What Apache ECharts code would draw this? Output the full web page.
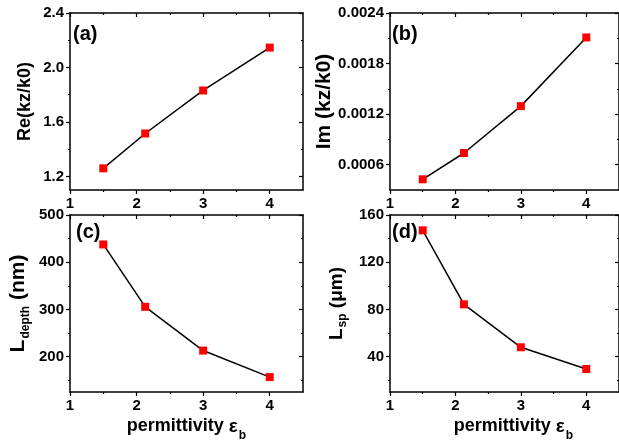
<!DOCTYPE html>
<html>
<head>
<meta charset="utf-8">
<script src="https://cdn.jsdelivr.net/npm/echarts@6/dist/echarts.min.js"></script>
<style>
  html, body { margin: 0; padding: 0; background: #fff; }
  #chart { width: 619px; height: 446px; }
</style>
</head>
<body>
<div id="chart"></div>
<script>
// Background permittivity values shared by all four panels
const epsB = [1.5, 2.13, 3, 4];

// (a) real part of normalised propagation constant
const reKz = [1.259, 1.515, 1.831, 2.146];
// (b) imaginary part of normalised propagation constant
const imKz = [0.000427, 0.000739, 0.001295, 0.00211];
// (c) penetration depth, nm
const lDepth = [437.6, 305.5, 212.8, 156.6];
// (d) propagation length, micrometres
const lSp = [147, 84.3, 47.9, 29.5];

// Tick positions
const xTicks = [1, 2, 3, 4];
const xMinor = [1.5, 2.5, 3.5];
const reTicks = [1.2, 1.6, 2.0, 2.4];
const reMinor = [1.4, 1.8, 2.2];
const imTicks = [0.0006, 0.0012, 0.0018, 0.0024];
const imMinor = [0.0009, 0.0015, 0.0021];
const depthTicks = [200, 300, 400, 500];
const depthMinor = [150, 250, 350, 450];
const spTicks = [40, 80, 120, 160];
const spMinor = [20, 60, 100, 140];

const FONT = "'Liberation Sans', Arial, sans-serif";
const BLACK = '#000';

const grids = [
  { left: 70, top: 13, width: 233, height: 177 },
  { left: 390, top: 13, width: 230, height: 177 },
  { left: 70, top: 215, width: 233, height: 177 },
  { left: 390, top: 215, width: 230, height: 177 }
];

const xAxis = [];
const yAxis = [];

// One frame side: a major axis carrying line/labels/ticks and a
// companion axis that only draws the shorter minor ticks.
function side(list, base, major, minor, opts) {
  const inside = !!opts.inside;
  list.push(Object.assign({}, base, {
    position: opts.position,
    name: opts.name || '',
    nameLocation: 'middle',
    nameGap: opts.nameGap || 0,
    nameTextStyle: opts.nameTextStyle || {},
    axisLine: { show: true, onZero: false, lineStyle: { color: BLACK, width: 1.5 } },
    axisTick: { show: true, inside: inside, length: 4, customValues: major,
                lineStyle: { color: BLACK, width: 1.2 } },
    axisLabel: opts.labels ? {
      show: true, customValues: major, margin: 6, showMaxLabel: true,
      color: BLACK, fontFamily: FONT, fontWeight: 'bold', fontSize: 15,
      formatter: opts.formatter || (v => String(v))
    } : { show: false },
    splitLine: { show: false }
  }));
  list.push(Object.assign({}, base, {
    position: opts.position,
    axisLine: { show: false, onZero: false },
    axisTick: { show: true, inside: inside, length: 2, customValues: minor,
                lineStyle: { color: BLACK, width: 1.2 } },
    axisLabel: { show: false },
    splitLine: { show: false }
  }));
}

function frame(gi, yMin, yMax, yMajor, yMinorVals, yFmt, yName, yNameGap, yNameStyle, xName) {
  const xb = { type: 'value', gridIndex: gi, min: 1, max: 4.5 };
  const xIdx = xAxis.length;
  side(xAxis, xb, xTicks, xMinor, {
    position: 'bottom', labels: true,
    name: xName, nameGap: 25,
    nameTextStyle: xName ? xNameStyle(gi === 3 ? 18 : 0) : {}
  });
  side(xAxis, xb, xTicks, xMinor, { position: 'top', inside: true });

  const yb = { type: 'value', gridIndex: gi, min: yMin, max: yMax };
  const yIdx = yAxis.length;
  side(yAxis, yb, yMajor, yMinorVals, {
    position: 'left', labels: true, formatter: yFmt,
    name: yName, nameGap: yNameGap, nameTextStyle: yNameStyle
  });
  side(yAxis, yb, yMajor, yMinorVals, { position: 'right', inside: true });
  return { xIdx, yIdx };
}

function xNameStyle(shift) {
  return {
    color: BLACK, fontFamily: FONT, fontWeight: 'bold', fontSize: 18,
    padding: [0, 0, 0, shift],
    rich: {
      m: { fontFamily: FONT, fontWeight: 'bold', fontSize: 18, color: BLACK, verticalAlign: 'top', lineHeight: 18 },
      e: { fontFamily: FONT, fontWeight: 'bold', fontSize: 19, color: BLACK, verticalAlign: 'top', lineHeight: 18 },
      s: { fontFamily: FONT, fontWeight: 'bold', fontSize: 12, color: BLACK, verticalAlign: 'top',
           padding: [13, 0, 0, 1], lineHeight: 28 }
    }
  };
}

function subNameStyle(main, sub, drop) {
  return {
    color: BLACK, fontFamily: FONT, fontWeight: 'bold', fontSize: main,
    rich: {
      m: { fontFamily: FONT, fontWeight: 'bold', fontSize: main, color: BLACK, verticalAlign: 'top', lineHeight: main },
      s: { fontFamily: FONT, fontWeight: 'bold', fontSize: sub, color: BLACK, verticalAlign: 'top',
           padding: [drop, 0, 0, 1], lineHeight: drop + sub }
    }
  };
}

const plainName = size => ({ color: BLACK, fontFamily: FONT, fontWeight: 'bold', fontSize: size });
const xLabel = '{m|permittivity }{e|ε}{s|b}';

const fA = frame(0, 1.1, 2.4, reTicks, reMinor, v => v.toFixed(1),
  'Re(kz/k0)', 36, plainName(18), '');
const fB = frame(1, 0.0003, 0.0024, imTicks, imMinor, v => v.toFixed(4),
  'Im (kz/k0)', 54, plainName(21), '');
const fC = frame(2, 125, 500, depthTicks, depthMinor, v => String(v),
  '{m|L}{s|depth}{m| (nm)}', 38, subNameStyle(21, 12, 12), xLabel);
const fD = frame(3, 10, 160, spTicks, spMinor, v => String(v),
  '{m|L}{s|sp}{m| (μm)}', 41, subNameStyle(19, 12, 10), xLabel);

function curve(f, values) {
  return {
    type: 'line',
    xAxisIndex: f.xIdx,
    yAxisIndex: f.yIdx,
    data: epsB.map((x, i) => [x, values[i]]),
    symbol: 'rect',
    symbolSize: 8,
    showAllSymbol: true,
    itemStyle: { color: '#ff0000' },
    lineStyle: { color: BLACK, width: 1.5 },
    emphasis: { disabled: true }
  };
}

const panelTag = (text, x, y) => ({
  type: 'text', left: x, top: y,
  style: { text: text, font: "bold 20px 'Liberation Sans', Arial, sans-serif", fill: BLACK }
});

const chart = echarts.init(document.getElementById('chart'), null, { renderer: 'canvas' });
chart.setOption({
  animation: false,
  backgroundColor: '#fff',
  grid: grids,
  xAxis: xAxis,
  yAxis: yAxis,
  series: [curve(fA, reKz), curve(fB, imKz), curve(fC, lDepth), curve(fD, lSp)],
  graphic: [
    panelTag('(a)', 73, 24),
    panelTag('(b)', 392, 24),
    panelTag('(c)', 76, 222),
    panelTag('(d)', 392, 222)
  ]
});
</script>
</body>
</html>
